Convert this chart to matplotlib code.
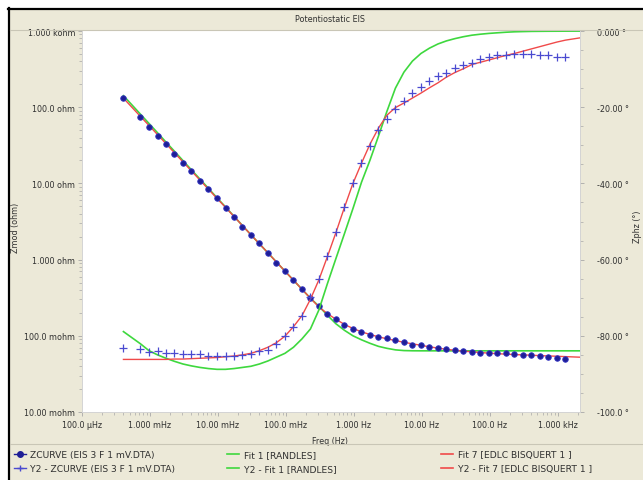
import matplotlib
matplotlib.use("Agg")
import matplotlib.pyplot as plt
from matplotlib.lines import Line2D
from matplotlib.patches import Rectangle

# measured frequencies (Hz)
freq = [4.07e-4,
        7.24e-4, 9.66e-4, 1.29e-3, 1.72e-3, 2.29e-3, 3.05e-3, 4.07e-3, 5.43e-3,
        7.24e-3, 9.66e-3, 1.29e-2, 1.72e-2, 2.29e-2, 3.05e-2, 4.07e-2, 5.43e-2,
        7.24e-2, 9.66e-2, 0.129, 0.172, 0.229, 0.305, 0.407, 0.543,
        0.724, 0.966, 1.29, 1.72, 2.29, 3.05, 4.07, 5.43,
        7.24, 9.66, 12.9, 17.2, 22.9, 30.5, 40.7, 54.3,
        72.4, 96.6, 129, 172, 229, 305, 407, 543,
        724, 966, 1288]

# fit curves run a bit past the last data point
fit_freq = freq + [2110]

# ZCURVE (EIS 3 F 1 mV.DTA)
zmod = [131.3, 75.4, 55.7, 42.4, 32.9, 24.6, 18.7, 14.7, 10.85, 8.34,
        6.35, 4.73, 3.60, 2.69, 2.13, 1.66, 1.225, 0.913, 0.702, 0.534,
        0.407, 0.313, 0.246, 0.195, 0.164, 0.1396, 0.1236, 0.1119, 0.1031, 0.0979,
        0.0927, 0.0873, 0.0825, 0.0768, 0.0746, 0.0710, 0.0689, 0.0675, 0.0660, 0.0635,
        0.0621, 0.0603, 0.0603, 0.0598, 0.0592, 0.0580, 0.0562, 0.0557, 0.0545, 0.0524,
        0.0513, 0.0498]
zphz = [-83.3, -83.4, -84.2, -84.1, -84.5, -84.6, -84.7, -84.8, -84.9, -85.3,
        -85.3, -85.3, -85.2, -85.0, -84.7, -84.0, -83.6, -82.1, -80.0, -77.7,
        -74.7, -69.7, -65.0, -59.1, -52.7, -46.1, -39.8, -34.7, -30.3, -26.0,
        -23.1, -20.5, -18.5, -16.3, -14.7, -13.2, -11.7, -10.9, -9.7, -8.9,
        -8.4, -7.4, -6.9, -6.4, -6.2, -6.0, -6.0, -6.0, -6.2, -6.4,
        -6.7, -6.9]

# Fit 1 [RANDLES]
randles_zmod = [141.7, 80.9, 61.2, 46.2, 34.8, 26.4, 19.95, 15.05, 11.39, 8.60,
                6.48, 4.91, 3.70, 2.80, 2.12, 1.61, 1.225, 0.930, 0.706, 0.536,
                0.408, 0.311, 0.2444, 0.1861, 0.1438, 0.1181, 0.1000, 0.0886, 0.0797, 0.0727,
                0.0685, 0.0654, 0.0640, 0.0636, 0.0635, 0.0635, 0.0635, 0.0635, 0.0635, 0.0635,
                0.0635, 0.0635, 0.0635, 0.0635, 0.0635, 0.0635, 0.0635, 0.0635, 0.0635, 0.0635,
                0.0635, 0.0635, 0.0635]
randles_zphz = [-78.9, -82.1, -83.9, -85.0, -85.9, -86.7, -87.4, -87.9, -88.3, -88.6,
                -88.8, -88.8, -88.6, -88.3, -88.0, -87.4, -86.6, -85.6, -84.6, -83.0,
                -80.8, -78.2, -73.2, -66.3, -59.7, -53.2, -46.6, -39.7, -33.9, -27.6,
                -21.1, -15.0, -10.8, -7.9, -5.9, -4.5, -3.4, -2.6, -2.0, -1.5,
                -1.1, -0.84, -0.63, -0.47, -0.32, -0.21, -0.15, -0.10, -0.08, -0.06,
                -0.05, -0.04, -0.03]

# Fit 7 [EDLC BISQUERT 1 ]
edlc_zmod = [131.3, 75.6, 57.6, 43.7, 33.2, 25.2, 19.2, 14.56, 11.05, 8.39,
             6.37, 4.85, 3.68, 2.79, 2.12, 1.61, 1.225, 0.930, 0.706, 0.536,
             0.408, 0.311, 0.239, 0.195, 0.165, 0.141, 0.1248, 0.1129, 0.1040, 0.0970,
             0.0913, 0.0867, 0.0821, 0.0785, 0.0750, 0.0717, 0.0689, 0.0665, 0.0645, 0.0629,
             0.0616, 0.0603, 0.0592, 0.0583, 0.0574, 0.0567, 0.0562, 0.0556, 0.0549, 0.0544,
             0.0539, 0.0533, 0.0524]
edlc_zphz = [-86.2, -86.2, -86.2, -86.2, -86.2, -86.1, -86.1, -86.0, -85.9, -85.8,
             -85.7, -85.5, -85.3, -85.0, -84.6, -83.9, -83.0, -81.8, -80.1, -77.6,
             -74.7, -70.4, -65.3, -59.2, -52.9, -46.3, -40.0, -34.7, -29.7, -25.5,
             -22.1, -20.1, -18.9, -17.6, -16.3, -14.9, -13.6, -12.1, -10.9, -9.9,
             -8.8, -8.2, -7.6, -7.0, -6.4, -5.9, -5.3, -4.7, -4.1, -3.5,
             -2.9, -2.4, -1.8]

xticks = [1e-4, 1e-3, 1e-2, 1e-1, 1, 10, 100, 1000]
xticklabels = ["100.0 \u00b5Hz", "1.000 mHz", "10.00 mHz", "100.0 mHz",
               "1.000 Hz", "10.00 Hz", "100.0 Hz", "1.000 kHz"]
zticks = [1e-2, 1e-1, 1, 10, 100, 1000]
zticklabels = ["10.00 mohm", "100.0 mohm", "1.000 ohm", "10.00 ohm", "100.0 ohm", "1.000 kohm"]
pticks = [-100, -80, -60, -40, -20, 0]
pticklabels = ["-100.0 \u00b0", "-80.00 \u00b0", "-60.00 \u00b0", "-40.00 \u00b0", "-20.00 \u00b0", "0.000 \u00b0"]

labels = ["ZCURVE (EIS 3 F 1 mV.DTA)", "Y2 - ZCURVE (EIS 3 F 1 mV.DTA)",
          "Fit 1 [RANDLES]", "Y2 - Fit 1 [RANDLES]",
          "Fit 7 [EDLC BISQUERT 1 ]", "Y2 - Fit 7 [EDLC BISQUERT 1 ]"]

beige = "#ece9d8"
navy = "#1e1e96"
blue = "#4a4ad0"
green = "#3ed83e"
red = "#f04a4a"
tickc = "#a8a8a8"
txt = "#303030"

fig = plt.figure(figsize=(6.43, 4.81), dpi=100)
fig.patch.set_facecolor("white")
W, H = 643.0, 481.0

# panel background and frame
fig.add_artist(Rectangle((8 / W, 0), 1 - 8 / W, 1 - 9 / H, transform=fig.transFigure,
                         facecolor=beige, edgecolor="none", zorder=-10))
fig.add_artist(Line2D([8 / W, 1], [1 - 9.5 / H, 1 - 9.5 / H], transform=fig.transFigure,
                      color="black", lw=1.6))
fig.add_artist(Line2D([8.5 / W, 8.5 / W], [0, 1 - 9 / H], transform=fig.transFigure,
                      color="black", lw=1.6))
fig.add_artist(Line2D([10 / W, 1], [1 - 31 / H, 1 - 31 / H], transform=fig.transFigure,
                      color="#c9c6b6", lw=0.8))
fig.add_artist(Line2D([10 / W, 1], [1 - 445 / H, 1 - 445 / H], transform=fig.transFigure,
                      color="#c9c6b6", lw=0.8))
fig.text(330 / W, 1 - 20 / H, "Potentiostatic EIS", ha="center", va="center",
         fontsize=5.8, color=txt)

ax = fig.add_axes([82 / W, 1 - 413 / H, 498 / W, 381 / H])
ax.set_facecolor("white")
ax2 = ax.twinx()

ax.plot(freq, zmod, ls="none", marker="o", ms=4.0, mfc=navy, mec="#3434c4", mew=0.6, zorder=3)
ax.plot(fit_freq, randles_zmod, color=green, lw=1.2, zorder=2)
ax.plot(fit_freq, edlc_zmod, color=red, lw=1.0, zorder=2)

ax2.plot(freq, zphz, ls="none", marker="+", ms=5.2, mew=0.9, color=blue, zorder=3)
ax2.plot(fit_freq, randles_zphz, color=green, lw=1.2, zorder=2)
ax2.plot(fit_freq, edlc_zphz, color=red, lw=1.0, zorder=2)

ax.set_xscale("log")
ax.set_yscale("log")
ax.set_xlim(1e-4, 2110)
ax.set_ylim(1e-2, 1e3)
ax2.set_ylim(-100, 0)

ax.set_xticks(xticks)
ax.set_xticklabels(xticklabels)
ax.set_yticks(zticks)
ax.set_yticklabels(zticklabels)
ax2.set_yticks(pticks)
ax2.set_yticklabels(pticklabels)
ax2.set_yticks(list(range(-95, 0, 5)), minor=True)

for a in (ax, ax2):
    for s in a.spines.values():
        s.set_color("#d4d4d4")
        s.set_linewidth(0.6)
    a.spines["top"].set_visible(False)

ax.tick_params(axis="both", which="major", length=3, width=0.6, color=tickc,
               labelsize=5.8, labelcolor=txt)
ax.tick_params(axis="both", which="minor", length=2, width=0.5, color=tickc)
ax.tick_params(axis="y", pad=2)
ax.tick_params(axis="x", pad=3)
ax2.tick_params(axis="y", which="major", length=3, width=0.6, color=tickc,
                labelsize=5.8, labelcolor=txt, pad=9)
ax2.tick_params(axis="y", which="minor", length=2, width=0.5, color=tickc)
for lab in ax2.get_yticklabels():
    lab.set_ha("left")

ax.set_xlabel("Freq (Hz)", fontsize=5.8, color=txt)
ax.xaxis.set_label_coords(0.498, -0.063)
ax.set_ylabel("Zmod (ohm)", fontsize=5.8, color=txt)
ax.yaxis.set_label_coords(-0.124, 0.486)
ax2.set_ylabel("Zphz (\u00b0)", fontsize=5.8, color=txt, rotation=90)
ax2.yaxis.set_label_coords(1.106, 0.49)

handles = [
    Line2D([], [], color=navy, lw=1.0, marker="o", ms=4, mfc=navy, mec=navy),
    Line2D([], [], color=blue, lw=1.0, marker="+", ms=5, mew=1.0),
    Line2D([], [], color=green, lw=1.2),
    Line2D([], [], color=green, lw=1.2),
    Line2D([], [], color=red, lw=1.2),
    Line2D([], [], color=red, lw=1.2),
]
for i, xpos in enumerate([14 / W, 227 / W, 441 / W]):
    fig.legend(handles[2 * i:2 * i + 2], labels[2 * i:2 * i + 2], loc="upper left",
               bbox_to_anchor=(xpos, 1 - 451.5 / H), frameon=False, fontsize=6.6,
               handlelength=1.3, handletextpad=0.5, labelspacing=0.5,
               borderpad=0, borderaxespad=0, labelcolor=txt)

fig.savefig("out.png", dpi=100, facecolor=fig.get_facecolor())
